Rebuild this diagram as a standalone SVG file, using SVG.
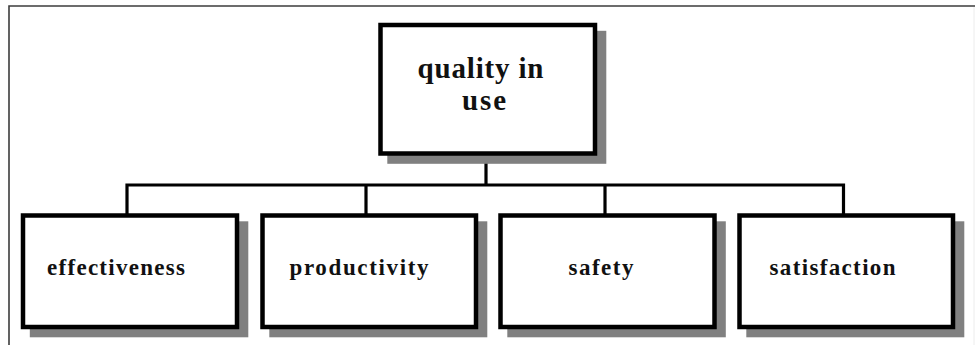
<svg xmlns="http://www.w3.org/2000/svg" width="975" height="345" viewBox="0 0 975 345">
<style>
.box{fill:#fff;stroke:#000;stroke-width:4.5}
.shadow{fill:#808080}
.conn{fill:none;stroke:#000;stroke-width:3.2}
.lbl{font-family:"Liberation Serif","Times New Roman",serif;font-weight:bold;fill:#111}
.frame{stroke:#3c3c3c;stroke-width:1.6;fill:none}
</style>
<rect width="975" height="345" fill="#fff"/>
<g id="frame">
<path class="frame" d="M9,345 V6 H975"/>
<line x1="974" y1="7" x2="974" y2="345" stroke="#ececec" stroke-width="1"/>
</g>
<g id="connectors">
<path class="conn" d="M486,153.5 V185"/>
<path class="conn" d="M127,215.5 V185 H843.5 V215.5"/>
<path class="conn" d="M366,185 V215.5"/>
<path class="conn" d="M605,185 V215.5"/>
</g>
<g id="quality-in-use">
<rect class="shadow" x="387.3" y="30.8" width="219" height="133"/>
<rect class="box" x="380.5" y="25" width="214.5" height="128.5"/>
<text class="lbl" x="417.5" y="78" font-size="29" textLength="126" lengthAdjust="spacing">quality in</text>
<text class="lbl" x="462" y="110" font-size="29" textLength="44" lengthAdjust="spacing">use</text>
</g>
<g id="effectiveness">
<rect class="shadow" x="29.8" y="221.3" width="218.5" height="116"/>
<rect class="box" x="23" y="215.5" width="214" height="111.5"/>
<text class="lbl" x="47" y="275" font-size="23" textLength="138" lengthAdjust="spacing">effectiveness</text>
</g>
<g id="productivity">
<rect class="shadow" x="269.3" y="221.3" width="218" height="116"/>
<rect class="box" x="262.5" y="215.5" width="213.5" height="111.5"/>
<text class="lbl" x="289.5" y="275" font-size="23" textLength="139" lengthAdjust="spacing">productivity</text>
</g>
<g id="safety">
<rect class="shadow" x="507.3" y="221.3" width="218.5" height="116"/>
<rect class="box" x="500.5" y="215.5" width="214" height="111.5"/>
<text class="lbl" x="568.5" y="275" font-size="23" textLength="65" lengthAdjust="spacing">safety</text>
</g>
<g id="satisfaction">
<rect class="shadow" x="746.3" y="221.3" width="218" height="116"/>
<rect class="box" x="739.5" y="215.5" width="213.5" height="111.5"/>
<text class="lbl" x="769.5" y="275" font-size="23" textLength="126" lengthAdjust="spacing">satisfaction</text>
</g>
</svg>
